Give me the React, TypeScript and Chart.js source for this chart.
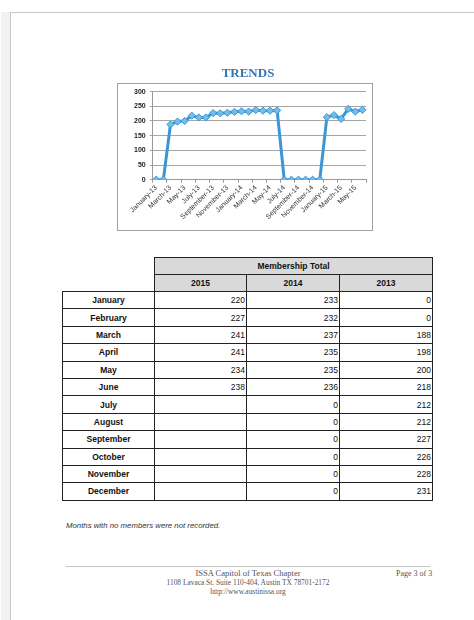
import React, { useEffect, useRef } from "react";
import { Chart, registerables } from "chart.js";

Chart.register(...registerables);

// ---- chart data ----
const categories = [
  "January-13", "February-13", "March-13", "April-13", "May-13", "June-13",
  "July-13", "August-13", "September-13", "October-13", "November-13", "December-13",
  "January-14", "February-14", "March-14", "April-14", "May-14", "June-14",
  "July-14", "August-14", "September-14", "October-14", "November-14", "December-14",
  "January-15", "February-15", "March-15", "April-15", "May-15", "June-15",
];
const members = [
  0, 0, 188, 198, 200, 218, 212, 212, 227, 226, 228, 231,
  233, 232, 237, 235, 235, 236, 0, 0, 0, 0, 0, 0,
  213, 220, 207, 241, 232, 238,
];
const yMin = 0;
const yMax = 300;
const yStep = 50;

// ---- table data ----
const months = [
  "January", "February", "March", "April", "May", "June",
  "July", "August", "September", "October", "November", "December",
];
const yearHeaders = ["2015", "2014", "2013"];
const totals2015: (number | null)[] = [220, 227, 241, 241, 234, 238, null, null, null, null, null, null];
const totals2014: (number | null)[] = [233, 232, 237, 235, 235, 236, 0, 0, 0, 0, 0, 0];
const totals2013: (number | null)[] = [0, 0, 188, 198, 200, 218, 212, 212, 227, 226, 228, 231];

const chartTitle = "TRENDS";
const tableTitle = "Membership Total";
const noteText = "Months with no members were not recorded.";
const footerLines = [
  "ISSA Capitol of Texas Chapter",
  "1108 Lavaca St. Suite 110-404, Austin TX 78701-2172",
  "http://www.austinissa.org",
];
const pageText = "Page 3 of 3";

const boxPlugin = {
  id: "boxBorder",
  beforeDraw(chart: any) {
    const { ctx, chartArea, width, height } = chart;
    const top = Math.round(chartArea.top - 9) + 0.5;
    ctx.save();
    ctx.strokeStyle = "#a0a0a0";
    ctx.lineWidth = 1;
    ctx.strokeRect(1.5, top, width - 3, height - 1.5 - top);
    ctx.restore();
  },
};

function TrendChart() {
  const ref = useRef<HTMLCanvasElement | null>(null);
  useEffect(() => {
    if (!ref.current) return;
    const tickFont = { family: "'Liberation Sans', Arial, sans-serif", size: 7 };
    const chart = new Chart(ref.current, {
      type: "line",
      data: {
        labels: categories,
        datasets: [
          {
            data: members,
            borderColor: "#3a97d6",
            borderWidth: 3,
            backgroundColor: "#72bdec",
            pointStyle: "rectRot",
            pointRadius: 3.6,
            pointBorderColor: "#3a97d6",
            pointBorderWidth: 1,
            pointBackgroundColor: "#72bdec",
            tension: 0,
          },
        ],
      },
      options: {
        responsive: false,
        animation: false,
        devicePixelRatio: 1,
        layout: { padding: { left: 14, right: 8, top: 0, bottom: 10 } },
        plugins: {
          legend: { display: false },
          tooltip: { enabled: false },
          title: {
            display: true,
            text: chartTitle,
            color: "#3676b0",
            font: { family: "'Liberation Serif', 'Times New Roman', serif", size: 13, weight: "bold" },
            padding: { top: 4, bottom: 10 },
          },
        },
        scales: {
          x: {
            type: "category",
            offset: true,
            grid: {
              offset: true,
              drawOnChartArea: false,
              drawTicks: true,
              tickLength: 3,
              color: (c: any) =>
                c.index === undefined || c.index % 2 === 0 ? "#9a9a9a" : "rgba(0,0,0,0)",
            },
            border: { display: true, color: "#9a9a9a" },
            ticks: {
              autoSkip: false,
              minRotation: 45,
              maxRotation: 45,
              padding: 1,
              color: "#333",
              font: tickFont,
              callback: (_v: any, i: number) => (i % 2 === 0 ? categories[i] : ""),
            },
          },
          y: {
            min: yMin,
            max: yMax,
            ticks: { stepSize: yStep, padding: 4, color: "#222", font: { ...tickFont, weight: "bold" } },
            grid: { color: "#a6a6a6", tickLength: 3 },
            border: { display: true, color: "#9a9a9a" },
          },
        },
      },
      plugins: [boxPlugin],
    } as any);
    return () => chart.destroy();
  }, []);
  return (
    <canvas
      ref={ref}
      width={258}
      height={170}
      style={{ position: "absolute", left: 116, top: 62, width: 258, height: 170 }}
    />
  );
}

const cellBorder = "1px solid #222";
const fmt = (v: number | null) => (v === null ? "" : String(v));

export default function App() {
  const tableFont = "'Liberation Sans', Arial, sans-serif";
  return (
    <div
      style={{
        position: "absolute",
        left: 0,
        top: 0,
        width: 474,
        height: 620,
        background: "#fff",
        overflow: "hidden",
      }}
    >
      {/* page edge */}
      <div style={{ position: "absolute", left: 1, top: 12, width: 9, height: 608, background: "#f2f2f2" }} />
      <div style={{ position: "absolute", left: 10, top: 12, width: 1, height: 608, background: "#c8c8c8" }} />
      <div style={{ position: "absolute", left: 10, top: 12, width: 464, height: 1, background: "#c8c8c8" }} />

      <TrendChart />

      <table
        style={{
          position: "absolute",
          left: 62,
          top: 257,
          width: 370,
          borderCollapse: "collapse",
          fontFamily: tableFont,
          fontSize: 8.5,
          color: "#111",
          tableLayout: "fixed",
        }}
      >
        <colgroup>
          <col style={{ width: 92 }} />
          <col style={{ width: 92 }} />
          <col style={{ width: 93 }} />
          <col style={{ width: 93 }} />
        </colgroup>
        <tbody>
          <tr style={{ height: 17 }}>
            <td rowSpan={2} style={{ border: "none" }} />
            <td
              colSpan={3}
              style={{ border: cellBorder, background: "#d9d9d9", fontWeight: "bold", textAlign: "center", padding: 0 }}
            >
              {tableTitle}
            </td>
          </tr>
          <tr style={{ height: 17 }}>
            {yearHeaders.map((y) => (
              <td
                key={y}
                style={{ border: cellBorder, background: "#d9d9d9", fontWeight: "bold", textAlign: "center", padding: 0 }}
              >
                {y}
              </td>
            ))}
          </tr>
          {months.map((m, i) => (
            <tr key={m} style={{ height: 17.4 }}>
              <td style={{ border: cellBorder, fontWeight: "bold", textAlign: "center", padding: 0 }}>{m}</td>
              {[totals2015[i], totals2014[i], totals2013[i]].map((v, j) => (
                <td key={j} style={{ border: cellBorder, textAlign: "right", padding: "0 1px 0 0" }}>
                  {fmt(v)}
                </td>
              ))}
            </tr>
          ))}
        </tbody>
      </table>

      <div
        style={{
          position: "absolute",
          left: 66,
          top: 521,
          fontFamily: tableFont,
          fontStyle: "italic",
          fontSize: 7.8,
          color: "#333",
          whiteSpace: "nowrap",
        }}
      >
        {noteText}
      </div>

      <div style={{ position: "absolute", left: 66, top: 566, width: 364, height: 1, background: "#c4c4c4" }} />

      <div
        style={{
          position: "absolute",
          left: 100,
          top: 569,
          width: 296,
          textAlign: "center",
          fontFamily: "'Liberation Serif', 'Times New Roman', serif",
          color: "#555",
          lineHeight: "9px",
        }}
      >
        <div style={{ fontSize: 8.5 }}>{footerLines[0]}</div>
        <div style={{ fontSize: 7.4 }}>{footerLines[1]}</div>
        <div style={{ fontSize: 7.4 }}>{footerLines[2]}</div>
      </div>
      <div
        style={{
          position: "absolute",
          left: 396,
          top: 569,
          width: 34,
          textAlign: "right",
          fontFamily: "'Liberation Serif', 'Times New Roman', serif",
          color: "#555",
          fontSize: 8,
          lineHeight: "9px",
          whiteSpace: "nowrap",
        }}
      >
        {pageText}
      </div>
    </div>
  );
}
